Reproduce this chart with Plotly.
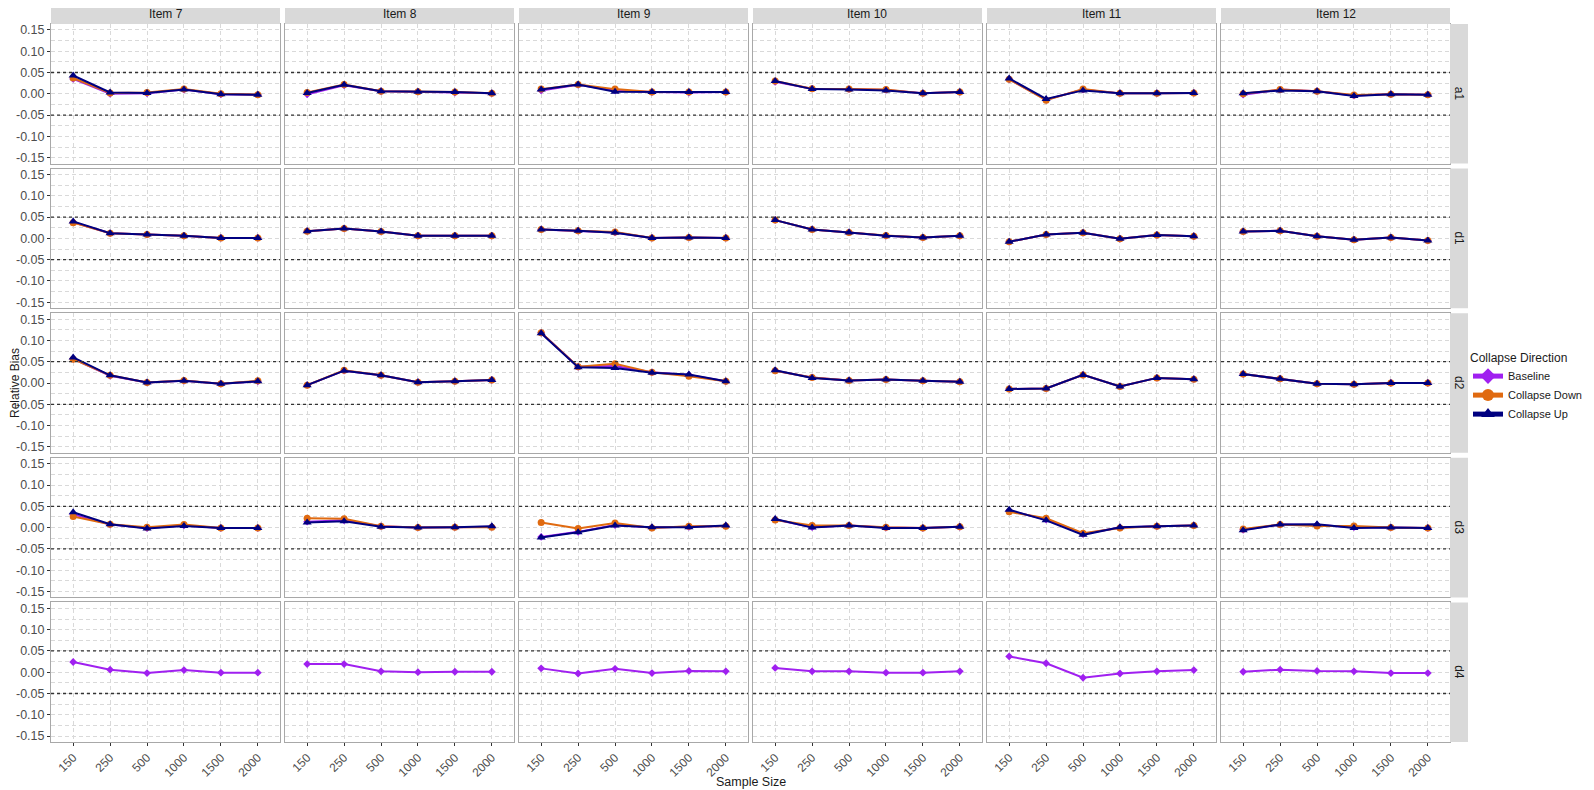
import plotly.graph_objects as go
from plotly.subplots import make_subplots

# categorias
sizes = ["150", "250", "500", "1000", "1500", "2000"]
items = ["Item 7", "Item 8", "Item 9", "Item 10", "Item 11", "Item 12"]
params = ["a1", "d1", "d2", "d3", "d4"]
series = ["Baseline", "Collapse Down", "Collapse Up"]

y_ticks = [-0.15, -0.10, -0.05, 0.00, 0.05, 0.10, 0.15]
y_ticktext = ["-0.15", "-0.10", "-0.05", "0.00", "0.05", "0.10", "0.15"]

# Relative bias, uma lista por item (Item 7 ... Item 12)
base_a1 = [[0.035, 0.000, 0.001, 0.010, -0.001, -0.002],
           [-0.001, 0.020, 0.006, 0.005, 0.003, 0.001],
           [0.008, 0.021, 0.008, 0.004, 0.003, 0.004],
           [0.028, 0.012, 0.011, 0.009, 0.001, 0.004],
           [0.034, -0.014, 0.010, 0.001, 0.001, 0.002],
           [-0.002, 0.010, 0.006, -0.004, -0.001, -0.002]]
down_a1 = [[0.037, 0.002, 0.003, 0.011, 0.000, -0.002],
           [0.003, 0.022, 0.006, 0.005, 0.004, 0.001],
           [0.011, 0.022, 0.011, 0.004, 0.004, 0.004],
           [0.030, 0.012, 0.011, 0.010, 0.001, 0.004],
           [0.034, -0.015, 0.011, 0.001, 0.001, 0.002],
           [0.000, 0.010, 0.006, -0.003, -0.001, -0.002]]
up_a1 = [[0.043, 0.003, 0.002, 0.010, -0.001, -0.002],
         [0.002, 0.021, 0.006, 0.005, 0.004, 0.001],
         [0.010, 0.022, 0.005, 0.004, 0.004, 0.004],
         [0.030, 0.011, 0.010, 0.008, 0.001, 0.004],
         [0.036, -0.012, 0.008, 0.001, 0.001, 0.002],
         [0.001, 0.008, 0.006, -0.005, -0.001, -0.002]]

base_d1 = [[0.038, 0.012, 0.009, 0.006, 0.001, 0.001],
           [0.017, 0.023, 0.016, 0.006, 0.006, 0.006],
           [0.021, 0.018, 0.014, 0.001, 0.002, 0.001],
           [0.043, 0.021, 0.014, 0.006, 0.002, 0.006],
           [-0.008, 0.009, 0.013, -0.001, 0.008, 0.005],
           [0.016, 0.018, 0.005, -0.003, 0.002, -0.005]]
down_d1 = [[0.037, 0.012, 0.009, 0.006, 0.001, 0.001],
           [0.017, 0.023, 0.016, 0.006, 0.006, 0.006],
           [0.021, 0.018, 0.015, 0.001, 0.002, 0.001],
           [0.043, 0.021, 0.014, 0.007, 0.002, 0.006],
           [-0.008, 0.009, 0.013, -0.001, 0.008, 0.005],
           [0.016, 0.018, 0.005, -0.003, 0.002, -0.005]]
up_d1 = [[0.040, 0.012, 0.009, 0.006, 0.001, 0.001],
         [0.017, 0.023, 0.016, 0.006, 0.006, 0.006],
         [0.021, 0.018, 0.013, 0.001, 0.002, 0.001],
         [0.043, 0.021, 0.014, 0.006, 0.002, 0.006],
         [-0.008, 0.009, 0.013, -0.001, 0.008, 0.005],
         [0.016, 0.018, 0.005, -0.003, 0.002, -0.005]]

base_d2 = [[0.057, 0.017, 0.001, 0.005, -0.002, 0.004],
           [-0.005, 0.029, 0.018, 0.002, 0.004, 0.007],
           [0.118, 0.038, 0.040, 0.025, 0.019, 0.004],
           [0.029, 0.013, 0.006, 0.008, 0.005, 0.003],
           [-0.014, -0.013, 0.019, -0.008, 0.012, 0.009],
           [0.021, 0.010, -0.002, -0.003, 0.000, 0.000]]
down_d2 = [[0.056, 0.018, 0.001, 0.006, -0.002, 0.005],
           [-0.005, 0.030, 0.018, 0.002, 0.004, 0.007],
           [0.118, 0.038, 0.045, 0.025, 0.016, 0.004],
           [0.029, 0.013, 0.006, 0.008, 0.005, 0.003],
           [-0.014, -0.013, 0.019, -0.008, 0.012, 0.009],
           [0.021, 0.010, -0.002, -0.003, 0.000, 0.000]]
up_d2 = [[0.060, 0.018, 0.001, 0.005, -0.002, 0.004],
         [-0.005, 0.029, 0.018, 0.002, 0.004, 0.007],
         [0.117, 0.037, 0.035, 0.024, 0.020, 0.004],
         [0.030, 0.012, 0.006, 0.008, 0.005, 0.003],
         [-0.014, -0.013, 0.019, -0.008, 0.012, 0.009],
         [0.021, 0.010, -0.002, -0.003, 0.000, 0.000]]

base_d3 = [[0.031, 0.007, -0.001, 0.005, -0.001, -0.001],
           [0.014, 0.017, 0.003, 0.000, 0.001, 0.002],
           [-0.022, -0.010, 0.006, 0.000, 0.002, 0.004],
           [0.019, 0.001, 0.005, 0.000, -0.001, 0.002],
           [0.040, 0.019, -0.015, 0.000, 0.003, 0.005],
           [-0.005, 0.007, 0.006, 0.001, 0.000, -0.001]]
down_d3 = [[0.026, 0.008, 0.001, 0.007, -0.001, -0.001],
           [0.022, 0.021, 0.003, 0.000, 0.001, 0.001],
           [0.012, -0.002, 0.011, -0.001, 0.003, 0.003],
           [0.018, 0.005, 0.005, 0.001, -0.001, 0.002],
           [0.037, 0.022, -0.013, -0.001, 0.003, 0.005],
           [-0.003, 0.007, 0.004, 0.004, 0.000, -0.001]]
up_d3 = [[0.036, 0.008, -0.002, 0.004, -0.001, -0.001],
         [0.012, 0.015, 0.002, 0.000, 0.001, 0.003],
         [-0.023, -0.011, 0.005, 0.001, 0.001, 0.005],
         [0.020, 0.000, 0.005, -0.001, -0.001, 0.002],
         [0.042, 0.017, -0.017, 0.001, 0.003, 0.005],
         [-0.006, 0.007, 0.008, -0.001, 0.000, -0.001]]

base_d4 = [[0.024, 0.006, -0.002, 0.005, -0.001, -0.001],
           [0.019, 0.019, 0.002, 0.000, 0.001, 0.001],
           [0.009, -0.003, 0.008, -0.002, 0.003, 0.002],
           [0.010, 0.002, 0.002, -0.001, -0.001, 0.002],
           [0.037, 0.021, -0.013, -0.003, 0.002, 0.005],
           [0.001, 0.006, 0.003, 0.002, -0.002, -0.002]]

data = {
    "a1": [base_a1, down_a1, up_a1],
    "d1": [base_d1, down_d1, up_d1],
    "d2": [base_d2, down_d2, up_d2],
    "d3": [base_d3, down_d3, up_d3],
    "d4": [base_d4, None, None],
}

colors = ["#A020F0", "#E06A10", "#000080"]
symbols = ["diamond", "circle", "triangle-up"]
msizes = [6, 7, 8]

# a página tem 8px de margem no body, então a figura é 8px menor
W, H = 1586, 782
ML, MR, MT, MB = 43, 144, 16, 48
PW, PH = W - ML - MR, H - MT - MB

fig = make_subplots(rows=5, cols=6,
                    horizontal_spacing=5 / PW,
                    vertical_spacing=5 / PH)

grid = "#D9D9D9"
gdash = "4px,3px"
font = "Liberation Sans, Arial, sans-serif"

for r, p in enumerate(params, start=1):
    for c, it in enumerate(items, start=1):
        for s, name in enumerate(series):
            vals = data[p][s]
            if vals is None:
                continue
            fig.add_trace(go.Scatter(
                x=sizes, y=vals[c - 1], mode="lines+markers", name=name,
                legendgroup=name, showlegend=(r == 1 and c == 1),
                line=dict(color=colors[s], width=2),
                marker=dict(color=colors[s], symbol=symbols[s], size=msizes[s]),
            ), row=r, col=c)

        n = (r - 1) * 6 + c
        suf = "" if n == 1 else str(n)
        for yv in (0.05, -0.05):
            fig.add_shape(type="line", xref=f"x{suf} domain", yref=f"y{suf}",
                          x0=0, x1=1, y0=yv, y1=yv,
                          line=dict(color="#333333", width=1.3, dash="3px,3px"))

        fig.update_xaxes(type="category", categoryorder="array", categoryarray=sizes,
                         range=[-0.6, 5.6], showgrid=True, gridcolor=grid,
                         griddash=gdash, gridwidth=1, zeroline=False,
                         showline=True, mirror=True, linecolor="#A8A8A8", linewidth=1,
                         ticks="outside" if r == 5 else "", ticklen=3, tickcolor="#333333",
                         showticklabels=(r == 5), tickangle=-45,
                         tickfont=dict(family=font, size=12, color="#4D4D4D"),
                         row=r, col=c)
        fig.update_yaxes(range=[-0.164, 0.164], tickmode="array", tickvals=y_ticks,
                         ticktext=y_ticktext, showgrid=True, gridcolor=grid,
                         griddash=gdash, gridwidth=1, zeroline=False,
                         minor=dict(tickmode="array",
                                    tickvals=[-0.125, -0.075, -0.025, 0.025, 0.075, 0.125],
                                    showgrid=True, gridcolor=grid, griddash=gdash,
                                    gridwidth=1),
                         showline=True, mirror=True, linecolor="#A8A8A8", linewidth=1,
                         ticks="outside" if c == 1 else "", ticklen=3, tickcolor="#333333",
                         showticklabels=(c == 1),
                         tickfont=dict(family=font, size=12.5, color="#4D4D4D"),
                         row=r, col=c)

# faixas (strips) superiores e laterais
strip_h = 19 / PH
strip_w = 18 / PW
for c, it in enumerate(items, start=1):
    suf = "" if c == 1 else str(c)
    fig.add_shape(type="rect", xref=f"x{suf} domain", yref="paper",
                  x0=0, x1=1, y0=1.0, y1=1.0 + strip_h,
                  fillcolor="#D9D9D9", line=dict(width=0))
    dom = fig.layout[f"xaxis{suf}"].domain
    fig.add_annotation(x=(dom[0] + dom[1]) / 2, y=1.0 + strip_h / 2, xref="paper", yref="paper",
                       text=it, showarrow=False, xanchor="center", yanchor="middle",
                       font=dict(family=font, size=12, color="#1A1A1A"))

for r, p in enumerate(params, start=1):
    n = (r - 1) * 6 + 1
    suf = "" if n == 1 else str(n)
    fig.add_shape(type="rect", xref="paper", yref=f"y{suf} domain",
                  x0=1.0, x1=1.0 + strip_w, y0=0, y1=1,
                  fillcolor="#D9D9D9", line=dict(width=0))
    dom = fig.layout[f"yaxis{suf}"].domain
    fig.add_annotation(x=1.0 + strip_w / 2, y=(dom[0] + dom[1]) / 2, xref="paper", yref="paper",
                       text=p, showarrow=False, textangle=90,
                       xanchor="center", yanchor="middle",
                       font=dict(family=font, size=12, color="#1A1A1A"))

# titulos dos eixos
fig.add_annotation(x=0.5, y=-40 / PH, xref="paper", yref="paper", text="Sample Size",
                   showarrow=False, xanchor="center", yanchor="middle",
                   font=dict(family=font, size=12.5, color="#1A1A1A"))
fig.add_annotation(x=-(ML - 7) / PW, y=0.5, xref="paper", yref="paper", text="Relative Bias",
                   showarrow=False, textangle=-90, xanchor="center", yanchor="middle",
                   font=dict(family=font, size=12, color="#1A1A1A"))

fig.update_layout(
    width=W, height=H,
    margin=dict(l=ML, r=MR, t=MT, b=MB, autoexpand=False),
    plot_bgcolor="white", paper_bgcolor="white",
    font=dict(family=font, size=12, color="#1A1A1A"),
    showlegend=True,
    legend=dict(title=dict(text="Collapse Direction", font=dict(size=12)),
                x=(1460 - ML) / PW, xanchor="left",
                y=(H - MB - 338) / PH, yanchor="top",
                font=dict(family=font, size=11, color="#1A1A1A"),
                tracegroupgap=0, itemsizing="constant", itemwidth=30,
                bgcolor="rgba(0,0,0,0)"),
)

fig.write_html("out.html")
